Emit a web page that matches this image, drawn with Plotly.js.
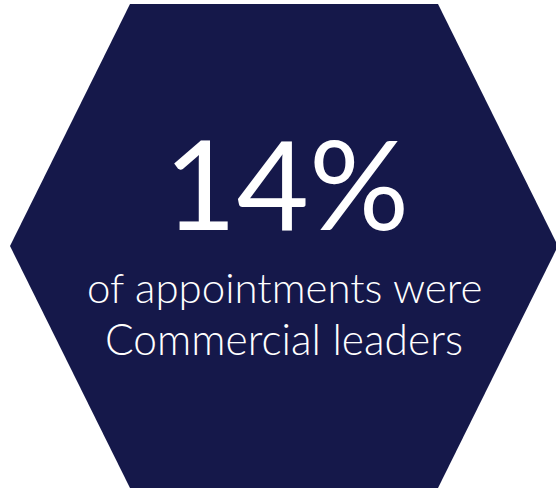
<!DOCTYPE html>
<html>
<head>
<meta charset="utf-8">
<script src="https://cdn.plot.ly/plotly-3.0.1.min.js"></script>
<style>html,body{margin:0;padding:0;background:#fff;}#chart{width:556px;height:490px;}</style>
</head>
<body>
<div id="chart"></div>
<script>
// Data
var statValue = [14];
var statSuffix = ["%"];
var labelLines = ["of appointments were", "Commercial leaders"];

var navy = "#15184A";

var layout = {
  width: 556, height: 490,
  margin: {l: 0, r: 0, t: 0, b: 0},
  paper_bgcolor: "#ffffff", plot_bgcolor: "#ffffff",
  xaxis: {range: [0, 556], visible: false, fixedrange: true},
  yaxis: {range: [490, 0], visible: false, fixedrange: true},
  showlegend: false,
  shapes: [{
    type: "path",
    xref: "x", yref: "y",
    path: "M 130 4 L 438 4 L 558 246 L 438 488 L 130 488 L 10 246 Z",
    fillcolor: navy,
    line: {width: 0}
  }],
  annotations: [
    {x: 286, y: 182, xref: "x", yref: "y", showarrow: false,
     text: statValue[0] + statSuffix[0],
     font: {family: "Lato", size: 125, color: "#ffffff", weight: 400},
     xanchor: "center", yanchor: "middle"},
    {x: 284, y: 287, xref: "x", yref: "y", showarrow: false,
     text: labelLines[0],
     font: {family: "Lato", size: 42, color: "#ffffff", weight: 300},
     xanchor: "center", yanchor: "middle"},
    {x: 284, y: 338, xref: "x", yref: "y", showarrow: false,
     text: labelLines[1],
     font: {family: "Lato", size: 42.5, color: "#ffffff", weight: 300},
     xanchor: "center", yanchor: "middle"}
  ]
};

Plotly.newPlot("chart", [{x: [], y: [], type: "scatter", hoverinfo: "skip"}], layout, {displayModeBar: false, staticPlot: true});
</script>
</body>
</html>
